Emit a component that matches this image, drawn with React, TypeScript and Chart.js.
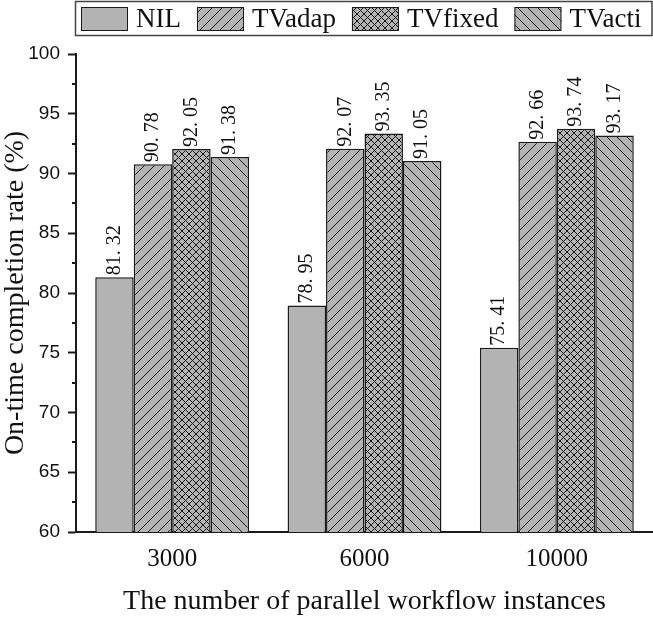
import React, { useEffect, useRef } from 'react';
import { Chart, registerables } from 'chart.js';

Chart.register(...registerables);

const categories = ['3000', '6000', '10000'];
const seriesNames = ['NIL', 'TVadap', 'TVfixed', 'TVacti'];
const nilValues = [81.32, 78.95, 75.41];
const tvAdapValues = [90.78, 92.07, 92.66];
const tvFixedValues = [92.05, 93.35, 93.74];
const tvActiValues = [91.38, 91.05, 93.17];
const yMin = 60;
const yMax = 100;
const yStep = 5;
const yTitle = 'On-time completion rate (%)';
const xTitle = 'The number of parallel workflow instances';

const BAR_GREY = '#b3b3b3';
const INK = '#1a1a1a';
const SERIF = "'Liberation Serif', 'Times New Roman', serif";
const SANS = "'Liberation Sans', Arial, sans-serif";

type Kind = 'none' | 'fwd' | 'back' | 'cross';

function makePattern(kind: Kind, size: number): CanvasPattern | string {
  if (kind === 'none') return BAR_GREY;
  const c = document.createElement('canvas');
  c.width = size;
  c.height = size;
  const g = c.getContext('2d')!;
  g.fillStyle = BAR_GREY;
  g.fillRect(0, 0, size, size);
  g.strokeStyle = INK;
  g.lineWidth = 1;
  const fwd = () => {
    g.beginPath();
    g.moveTo(-1, size + 1);
    g.lineTo(size + 1, -1);
    g.moveTo(-size - 1, size + 1);
    g.lineTo(1, -1);
    g.moveTo(size - 1, size + 1);
    g.lineTo(2 * size + 1, -1);
    g.stroke();
  };
  const back = () => {
    g.beginPath();
    g.moveTo(-1, -1);
    g.lineTo(size + 1, size + 1);
    g.moveTo(size - 1, -1);
    g.lineTo(2 * size + 1, size + 1);
    g.moveTo(-size - 1, -1);
    g.lineTo(1, size + 1);
    g.stroke();
  };
  if (kind === 'fwd') fwd();
  if (kind === 'back') back();
  if (kind === 'cross') {
    fwd();
    back();
  }
  return g.createPattern(c, 'repeat')!;
}

const formatValue = (v: number) => v.toFixed(2).replace('.', '. ');

const valueLabelPlugin = {
  id: 'valueLabels',
  afterDatasetsDraw(chart: any) {
    const ctx = chart.ctx;
    ctx.save();
    ctx.font = `20px ${SERIF}`;
    ctx.fillStyle = '#111';
    ctx.textAlign = 'left';
    ctx.textBaseline = 'middle';
    chart.data.datasets.forEach((ds: any, di: number) => {
      const meta = chart.getDatasetMeta(di);
      meta.data.forEach((el: any, i: number) => {
        ctx.save();
        ctx.translate(el.x, el.y - 2);
        ctx.rotate(-Math.PI / 2);
        ctx.fillText(formatValue(ds.data[i]), 0, 0);
        ctx.restore();
      });
    });
    ctx.restore();
  },
};

const minorTickPlugin = {
  id: 'minorTicks',
  afterDraw(chart: any) {
    const y = chart.scales.y;
    const ctx = chart.ctx;
    ctx.save();
    ctx.strokeStyle = INK;
    ctx.lineWidth = 2;
    const xr = y.right;
    for (let v = yMin + yStep / 2; v < yMax; v += yStep) {
      const py = Math.round(y.getPixelForValue(v));
      ctx.beginPath();
      ctx.moveTo(xr - 4, py);
      ctx.lineTo(xr, py);
      ctx.stroke();
    }
    ctx.restore();
  },
};

const legendPlugin = {
  id: 'boxLegend',
  afterDraw(chart: any) {
    const ctx = chart.ctx;
    ctx.save();
    ctx.strokeStyle = '#444';
    ctx.lineWidth = 1.5;
    ctx.strokeRect(75.5, 1.5, 576.5, 34);
    let x = 81;
    const cy = 19;
    const sw = 47;
    ctx.font = `27px ${SERIF}`;
    chart.data.datasets.forEach((ds: any) => {
      ctx.fillStyle = ds.backgroundColor;
      ctx.fillRect(x, cy - 12, sw, 24);
      ctx.strokeStyle = INK;
      ctx.lineWidth = 1;
      ctx.strokeRect(x + 0.5, cy - 11.5, sw - 1, 23);
      x += sw + 8;
      ctx.fillStyle = '#111';
      ctx.textBaseline = 'middle';
      ctx.textAlign = 'left';
      ctx.fillText(ds.label, x, cy + 1);
      x += ctx.measureText(ds.label).width + 16;
    });
    ctx.restore();
  },
};

export default function App() {
  const canvasRef = useRef<HTMLCanvasElement | null>(null);

  useEffect(() => {
    document.body.style.margin = '0';
    const canvas = canvasRef.current;
    if (!canvas) return;
    const kinds: Kind[] = ['none', 'fwd', 'cross', 'back'];
    const sizes = [10, 10, 7, 10];
    const values = [nilValues, tvAdapValues, tvFixedValues, tvActiValues];
    const chart = new Chart(canvas, {
      type: 'bar',
      data: {
        labels: categories,
        datasets: seriesNames.map((name, i) => ({
          label: name,
          data: values[i],
          backgroundColor: makePattern(kinds[i], sizes[i]) as any,
          borderColor: INK,
          borderWidth: 1.5,
          borderSkipped: false,
        })),
      },
      options: {
        responsive: false,
        animation: false,
        devicePixelRatio: 1,
        layout: { padding: { top: 54, left: 0, right: 0, bottom: 0 } },
        datasets: { bar: { categoryPercentage: 0.8, barPercentage: 1.0 } },
        plugins: {
          legend: { display: false },
          tooltip: { enabled: false },
        },
        scales: {
          x: {
            ticks: { padding: 12, color: '#111', font: { family: SERIF, size: 25 } },
            grid: { display: false, drawTicks: false },
            border: { display: true, color: INK, width: 2 },
            title: {
              display: true,
              text: xTitle,
              color: '#111',
              font: { family: SERIF, size: 28 },
              padding: { top: 0, bottom: 2 },
            },
            afterFit: (s: any) => {
              s.height = 88;
            },
          },
          y: {
            min: yMin,
            max: yMax,
            ticks: { stepSize: yStep, padding: 8, color: '#111', font: { family: SANS, size: 19 } },
            grid: { drawOnChartArea: false, drawTicks: true, tickLength: 8, tickWidth: 2, tickColor: INK },
            border: { display: true, color: INK, width: 2 },
            title: {
              display: true,
              text: yTitle,
              color: '#111',
              font: { family: SERIF, size: 28, lineHeight: 1 },
              padding: { top: 2, bottom: 0 },
            },
            afterFit: (s: any) => {
              s.width = 76;
            },
          },
        },
      },
      plugins: [valueLabelPlugin, minorTickPlugin, legendPlugin],
    });
    return () => chart.destroy();
  }, []);

  return (
    <div style={{ width: 653, height: 620 }}>
      <canvas ref={canvasRef} width={653} height={620} style={{ display: 'block' }} />
    </div>
  );
}
